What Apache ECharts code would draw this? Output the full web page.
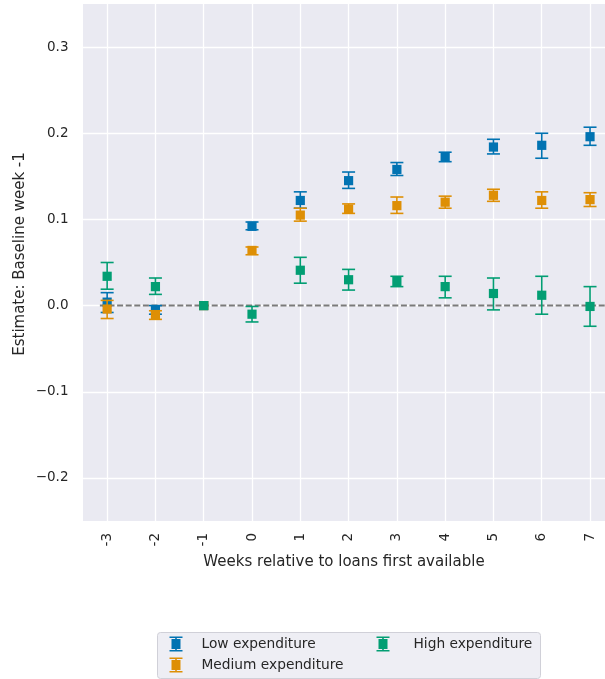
<!DOCTYPE html>
<html><head><meta charset="utf-8">
<script src="https://cdn.jsdelivr.net/npm/echarts@6/dist/echarts.min.js"></script>
<style>html,body{margin:0;padding:0;background:#fff;overflow:hidden}#c{width:605px;height:679px}</style>
</head><body><div id="c"></div>
<script>
// ---- data ----
const weeks = [-3, -2, -1, 0, 1, 2, 3, 4, 5, 6, 7];
const weekLabels = ['-3', '-2', '-1', '0', '1', '2', '3', '4', '5', '6', '7'];

const lowEst = [0.004, -0.005, 0, 0.092, 0.122, 0.145, 0.158, 0.172, 0.184, 0.186, 0.196];
const lowLo  = [-0.008, -0.010, 0, 0.088, 0.113, 0.136, 0.151, 0.167, 0.176, 0.171, 0.186];
const lowHi  = [0.015, 0.000, 0, 0.097, 0.132, 0.155, 0.166, 0.178, 0.193, 0.200, 0.207];

const medEst = [-0.004, -0.011, 0, 0.064, 0.105, 0.112, 0.116, 0.120, 0.128, 0.122, 0.123];
const medLo  = [-0.015, -0.016, 0, 0.059, 0.098, 0.107, 0.107, 0.113, 0.121, 0.113, 0.115];
const medHi  = [0.006, -0.006, 0, 0.068, 0.113, 0.118, 0.126, 0.127, 0.135, 0.132, 0.131];

const highEst = [0.034, 0.022, 0, -0.010, 0.041, 0.030, 0.028, 0.022, 0.014, 0.012, -0.001];
const highLo  = [0.019, 0.013, 0, -0.019, 0.026, 0.018, 0.022, 0.009, -0.005, -0.010, -0.024];
const highHi  = [0.050, 0.032, 0, -0.001, 0.056, 0.042, 0.034, 0.034, 0.032, 0.034, 0.022];

const yTicks = [-0.2, -0.1, 0, 0.1, 0.2, 0.3];
const yTickLabels = ['\u22120.2', '\u22120.1', '0.0', '0.1', '0.2', '0.3'];

const zeroLineX = [-3.15, 7.31];
const zeroLineY = [0, 0];

const seriesNames = ['Low expenditure', 'Medium expenditure', 'High expenditure'];
const seriesColors = ['#0173B2', '#DE8F05', '#029E73'];

// ---- chart ----
const FONT = 'DejaVu Sans';
const TXT = '#262626';
const chart = echarts.init(document.getElementById('c'), null, {renderer: 'canvas'});

function errRender(color) {
  return function (params, api) {
    const x = api.value(0), y = api.value(1), lo = api.value(2), hi = api.value(3);
    const c = api.coord([x, y]);
    const pl = api.coord([x, lo]);
    const ph = api.coord([x, hi]);
    const half = 6.5, sq = 4.6;
    const kids = [];
    if (Math.abs(hi - lo) > 1e-12) {
      kids.push({type: 'line', shape: {x1: c[0], y1: pl[1], x2: c[0], y2: ph[1]}, style: {stroke: color, lineWidth: 1.6}});
      kids.push({type: 'line', shape: {x1: c[0] - half, y1: pl[1], x2: c[0] + half, y2: pl[1]}, style: {stroke: color, lineWidth: 1.6}});
      kids.push({type: 'line', shape: {x1: c[0] - half, y1: ph[1], x2: c[0] + half, y2: ph[1]}, style: {stroke: color, lineWidth: 1.6}});
    }
    kids.push({type: 'rect', shape: {x: c[0] - sq, y: c[1] - sq, width: sq * 2, height: sq * 2}, style: {fill: color}});
    return {type: 'group', children: kids};
  };
}

function mk(name, color, est, lo, hi) {
  return {
    name: name, type: 'custom', xAxisIndex: 0, yAxisIndex: 0,
    itemStyle: {color: color},
    renderItem: errRender(color),
    encode: {x: 0, y: 1},
    data: weeks.map((w, i) => [w, est[i], lo[i], hi[i]]),
    z: 5
  };
}

const icon = 'path://M0,0H13V1.6H0Z M5.7,0H7.3V15H5.7Z M2,2.5H11V12.5H2Z M0,13.4H13V15H0Z';

chart.setOption({
  animation: false,
  backgroundColor: '#ffffff',
  grid: {left: 83, right: 0, top: 4, height: 517, show: true, backgroundColor: '#EAEAF2', borderWidth: 0},
  xAxis: [{
    type: 'value', min: -3.5, max: 7.31,
    axisLine: {show: false},
    axisTick: {show: false, customValues: weeks},
    splitLine: {show: true, lineStyle: {color: '#ffffff', width: 1.3}},
    axisLabel: {
      customValues: weeks, rotate: 90, margin: 12, fontFamily: FONT, fontSize: 13.5, color: TXT,
      formatter: function (v) {
        const i = weeks.indexOf(Math.round(v));
        return i >= 0 ? weekLabels[i] : '';
      }
    },
    name: 'Weeks relative to loans first available', nameLocation: 'middle', nameGap: 34,
    nameTextStyle: {fontFamily: FONT, fontSize: 15, color: TXT}
  }],
  yAxis: [{
    type: 'value', min: -0.25, max: 0.35,
    axisLine: {show: false},
    axisTick: {show: false, customValues: yTicks},
    splitLine: {show: true, lineStyle: {color: '#ffffff', width: 1.3}},
    axisLabel: {
      customValues: yTicks, margin: 14.5, fontFamily: FONT, fontSize: 13.5, color: TXT,
      formatter: function (v) {
        const i = yTicks.findIndex(t => Math.abs(t - v) < 1e-9);
        return i >= 0 ? yTickLabels[i] : '';
      }
    }
  }],
  graphic: [
    {type: 'rect', left: 157, top: 632, shape: {width: 383, height: 46, r: 3}, style: {fill: '#EEEEF4', stroke: '#D0D0D8', lineWidth: 1}, z: 0},
    {type: 'text', x: 20, y: 254, rotation: Math.PI / 2,
      style: {text: 'Estimate: Baseline week -1', fontFamily: FONT, fontSize: 15, fill: TXT, align: 'center', verticalAlign: 'middle'}}
  ],
  legend: [
    {data: [{name: seriesNames[0], icon: icon}, {name: seriesNames[1], icon: icon}], orient: 'vertical', left: 169.5, top: 636.5,
      itemWidth: 13, itemHeight: 15, itemGap: 6, padding: 0,
      textStyle: {fontFamily: FONT, fontSize: 13.75, color: TXT, padding: [0, 0, 0, 14]}},
    {data: [{name: seriesNames[2], icon: icon}], orient: 'vertical', left: 376.5, top: 636.5,
      itemWidth: 13, itemHeight: 15, itemGap: 6, padding: 0,
      textStyle: {fontFamily: FONT, fontSize: 13.75, color: TXT, padding: [0, 0, 0, 19]}}
  ],
  series: [
    {
      type: 'line', xAxisIndex: 0, yAxisIndex: 0, silent: true, symbol: 'none',
      data: zeroLineX.map((x, i) => [x, zeroLineY[i]]),
      lineStyle: {color: '#7a7a7a', width: 2, type: [6, 2.6]}, z: 2
    },
    mk(seriesNames[0], seriesColors[0], lowEst, lowLo, lowHi),
    mk(seriesNames[1], seriesColors[1], medEst, medLo, medHi),
    mk(seriesNames[2], seriesColors[2], highEst, highLo, highHi)
  ]
});
</script>
</body></html>
